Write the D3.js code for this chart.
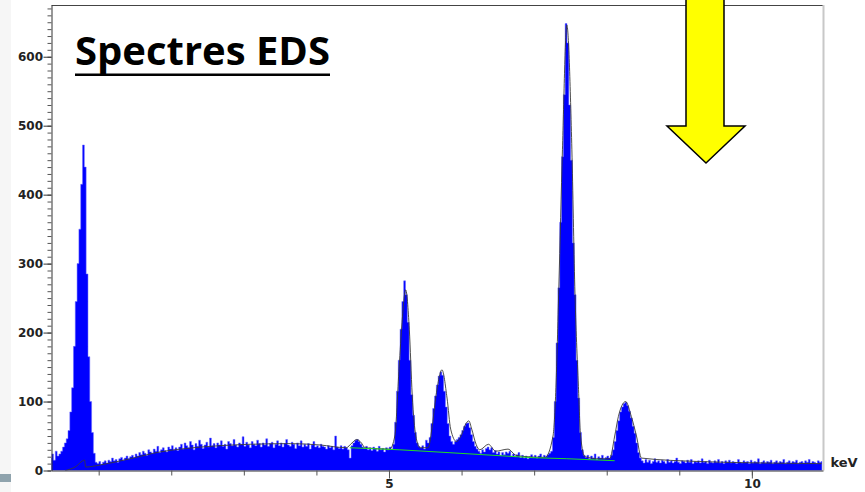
<!DOCTYPE html>
<html>
<head>
<meta charset="utf-8">
<script src="https://cdn.jsdelivr.net/npm/d3@7"></script>
<style>
  body { margin: 0; background: #fff; }
  svg { display: block; }
</style>
</head>
<body>
<svg id="chart" width="865" height="492"></svg>
<script>
// channels of the EDS spectrum (keV grid) and counts
const chanStart = 0.34;
const chanStep = 0.025;
const counts = [
  18, 24, 15, 28, 21,
  24, 28, 34, 40, 46, 58, 85, 120, 180, 245, 300, 350, 415, 472, 440, 285, 165, 100, 55, 25,
  12, 10, 13, 9, 12, 14, 11, 15, 13, 18, 14, 16, 12, 17, 19, 15, 18, 21, 17, 20,
  22, 19, 24, 21, 26, 23, 28, 25, 22, 30, 27, 25, 31, 28, 35, 26, 30, 33, 29, 27, 34, 31, 36, 30, 33, 29,
  34, 38, 31, 40, 36, 33, 42, 37, 30, 39,
  35, 44, 38, 32, 37, 41, 34, 47, 36, 39,
  33, 40, 37, 43, 35, 38, 31, 42, 39, 36,
  45, 37, 34, 40, 38, 49, 35, 41, 37, 33,
  42, 38, 36, 44, 39, 34, 40, 37, 46, 35,
  39, 41, 33, 38, 43, 36, 40, 34, 39, 45,
  37, 35, 41, 38, 32, 40, 36, 43, 34, 38,
  35, 39, 31, 37, 42, 34, 36, 33, 38, 35,
  34, 31, 36, 33, 35, 30, 50, 34, 32, 36, 31, 35, 33, 30, 18,
  36, 40, 44, 45, 42, 38, 34, 32, 35, 30,
  33, 29, 34, 31, 28, 35, 30, 32, 27, 33, 30, 34, 31,
  38, 70, 115, 160, 205, 245, 275, 255, 215, 160, 110, 80, 55, 40, 35,
  33, 36, 31, 44,
  40, 48, 68, 90, 108, 124, 137, 143, 138, 115, 92, 68, 50, 42, 38, 42,
  45, 48, 52, 58, 64, 68, 69, 62, 52, 42, 35, 31,
  28, 25, 30, 27, 32, 34, 30, 33, 26, 29,
  24, 27, 22, 26, 23, 27, 25, 28, 21, 24,
  20, 23, 26, 19, 22, 18, 21, 17, 20, 23,
  19, 22, 18, 21, 24, 19, 22, 20, 23, 25, 28,
  48, 100, 185, 265, 360, 455, 545, 648, 620, 530, 450, 330, 255, 160, 105, 55, 30, 22,
  19, 22, 17, 21, 18, 24, 16, 20, 18, 22, 17, 19, 21, 18,
  22, 30, 42, 58, 72, 85, 92, 97, 99, 94, 86, 76, 64, 54, 40, 26, 18,
  14, 11, 16, 12, 15, 10, 13, 17, 12, 14,
  11, 15, 13, 10, 16, 12, 14, 11, 13, 18,
  12, 10, 14, 13, 11, 15, 12, 16, 10, 13,
  12, 14, 11, 17, 12, 13, 10, 15, 12, 11,
  14, 12, 16, 11, 13, 10, 14, 12, 15, 11,
  13, 12, 10, 16, 12, 11, 14, 12, 13, 10,
  15, 11, 13, 12, 17, 10, 12, 14, 11, 13,
  12, 15, 10, 12, 14, 11, 13, 12, 16, 10,
  12, 14, 11, 13, 12, 15, 10, 12, 13, 11,
  14, 12, 16, 11, 13, 12, 10, 14, 12, 13
];

// fitted profile (keV, counts)
const fitCurve = [
  [0.54, 0], [0.675, 5], [0.806, 15], [0.82, 5], [1.02, 8], [1.43, 17], [1.85, 27],
  [2.12, 31], [2.67, 36], [3.09, 38], [3.64, 39], [4.05, 37], [4.41, 33], [4.49, 40],
  [4.555, 45], [4.62, 40], [4.67, 33], [5.01, 31], [5.08, 50], [5.14, 150], [5.18, 215],
  [5.23, 262], [5.28, 205], [5.32, 110], [5.37, 50], [5.43, 33], [5.54, 33], [5.59, 60],
  [5.65, 110], [5.73, 146], [5.80, 105], [5.85, 60], [5.93, 42], [6.0, 52], [6.05, 66],
  [6.10, 72], [6.14, 60], [6.20, 38], [6.25, 30], [6.37, 38], [6.47, 28], [6.64, 31],
  [6.75, 22], [6.90, 20], [7.15, 19], [7.26, 50], [7.30, 120], [7.34, 265], [7.39, 465],
  [7.45, 646], [7.52, 465], [7.56, 267], [7.61, 122], [7.64, 50], [7.70, 20], [7.91, 17],
  [8.04, 17], [8.11, 50], [8.16, 78], [8.26, 100], [8.34, 78], [8.41, 50], [8.48, 18],
  [9.28, 13], [10.1, 11], [10.96, 10]
];

// background (green)
const bgCurve = [[4.46, 33], [5.15, 30], [5.84, 25.8], [6.98, 18.6], [7.45, 17.1], [8.11, 14.2]];

const yTicksMajor = [0, 100, 200, 300, 400, 500, 600];
const yTicksMinor = d3.range(0, 680, 10);
const xTicks = [1, 2, 3, 4, 5, 6, 7, 8, 9, 10];
const xLabels = [5, 10];
const title = "Spectres EDS";
const unit = "keV";

const svg = d3.select("#chart");
const mLeft = 51.5, mRight = 823, mTop = 5, mBottom = 470.5;

const x = d3.scaleLinear().domain([0.35, 10.98]).range([mLeft, mRight]);
const y = d3.scaleLinear().domain([0, 675]).range([mBottom, mTop]);

// slide remnants on the left
svg.append("rect").attr("x", 0).attr("y", 0).attr("width", 11).attr("height", 492).attr("fill", "#f6f6f6");
svg.append("rect").attr("x", 0).attr("y", 474).attr("width", 11).attr("height", 8).attr("fill", "#8fa3ad");

svg.append("clipPath").attr("id", "plot")
  .append("rect").attr("x", mLeft).attr("y", mTop).attr("width", mRight - mLeft).attr("height", mBottom - mTop);

const g = svg.append("g").attr("clip-path", "url(#plot)");

// spectrum
const spec = counts.map((c, i) => [chanStart + i * chanStep, c]);
g.append("path")
  .datum(spec)
  .attr("fill", "#0000ff")
  .attr("stroke", "#6a6aff")
  .attr("stroke-width", 0.5)
  .attr("d", d3.area()
    .x(d => x(d[0]))
    .y0(y(0))
    .y1(d => y(d[1]))
    .curve(d3.curveStep));

// fit
g.append("path")
  .datum(fitCurve)
  .attr("fill", "none")
  .attr("stroke", "#3a3a3a")
  .attr("stroke-width", 0.9)
  .attr("d", d3.line().x(d => x(d[0])).y(d => y(d[1])).curve(d3.curveMonotoneX));

// background
g.append("path")
  .datum(bgCurve)
  .attr("fill", "none")
  .attr("stroke", "#22dd22")
  .attr("stroke-width", 1)
  .attr("d", d3.line().x(d => x(d[0])).y(d => y(d[1])));

// frame
svg.append("line").attr("x1", mLeft).attr("x2", mRight).attr("y1", mTop + 0.5).attr("y2", mTop + 0.5)
  .attr("stroke", "#444").attr("stroke-width", 1);
svg.append("line").attr("x1", mRight + 0.5).attr("x2", mRight + 0.5).attr("y1", mTop).attr("y2", mBottom)
  .attr("stroke", "#c8c8c8").attr("stroke-width", 2);

// y axis
const yMinor = svg.append("g").attr("transform", `translate(${mLeft},0)`)
  .call(d3.axisLeft(y).tickValues(yTicksMinor).tickSize(4).tickSizeOuter(0).tickFormat(""));
yMinor.select(".domain").attr("stroke", "#333");
yMinor.selectAll(".tick line").attr("stroke", "#555");

const yMajor = svg.append("g").attr("transform", `translate(${mLeft},0)`)
  .call(d3.axisLeft(y).tickValues(yTicksMajor).tickSize(8).tickPadding(0.5));
yMajor.select(".domain").remove();
yMajor.selectAll(".tick line").attr("stroke", "#333");
yMajor.selectAll(".tick text")
  .attr("font-family", "DejaVu Sans, Verdana, sans-serif")
  .attr("font-weight", "bold")
  .attr("font-size", 12)
  .attr("fill", "#222");

// x axis
const xMinor = svg.append("g").attr("transform", `translate(0,${mBottom})`)
  .call(d3.axisBottom(x).tickValues(xTicks).tickSize(5).tickSizeOuter(0).tickFormat(""));
xMinor.select(".domain").attr("stroke", "#333");
xMinor.selectAll(".tick line").attr("stroke", "#555");

const xMajor = svg.append("g").attr("transform", `translate(0,${mBottom})`)
  .call(d3.axisBottom(x).tickValues(xLabels).tickSize(8).tickPadding(1));
xMajor.select(".domain").remove();
xMajor.selectAll(".tick line").attr("stroke", "#555");
xMajor.selectAll(".tick text")
  .attr("font-family", "DejaVu Sans, Verdana, sans-serif")
  .attr("font-weight", "bold")
  .attr("font-size", 12)
  .attr("fill", "#222");

svg.append("text")
  .attr("x", 830.5).attr("y", 467)
  .attr("font-family", "DejaVu Sans, Verdana, sans-serif")
  .attr("font-weight", "bold")
  .attr("font-size", 13)
  .attr("fill", "#222")
  .text(unit);

// title
svg.append("text")
  .attr("x", 75).attr("y", 65)
  .attr("font-family", "Open Sans, sans-serif")
  .attr("font-weight", 700)
  .attr("font-size", 40)
  .attr("textLength", 255)
  .attr("lengthAdjust", "spacingAndGlyphs")
  .attr("fill", "#000")
  .text(title);
svg.append("rect").attr("x", 75).attr("y", 73.5).attr("width", 255).attr("height", 2.5).attr("fill", "#000");

// arrow
svg.append("path")
  .attr("d", "M686,-2 L724,-2 L724,126 L745,126 L706,163 L667,126 L686,126 Z")
  .attr("fill", "#ffff00")
  .attr("stroke", "#000")
  .attr("stroke-width", 1.5)
  .attr("stroke-linejoin", "miter");
</script>
</body>
</html>
